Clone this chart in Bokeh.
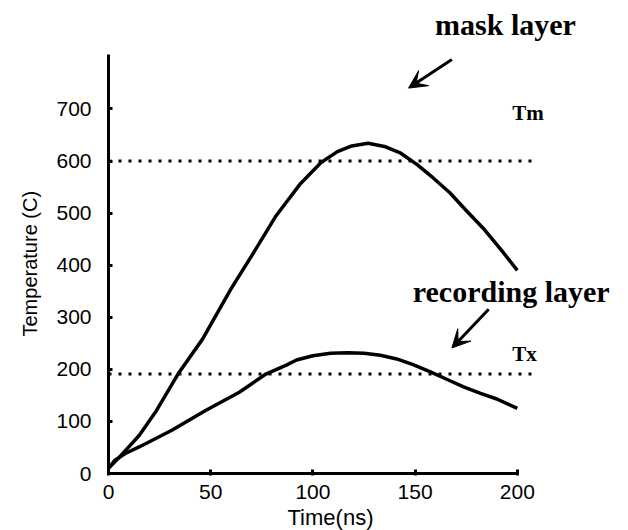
from bokeh.plotting import figure
from bokeh.models import Range1d, FixedTicker, Label, Arrow, VeeHead, Title
from bokeh.embed import file_html
from bokeh.resources import INLINE

# Data
t_mask = [0, 5, 15, 23, 34, 46, 60, 71, 82, 94, 104, 112, 119, 127, 135, 143, 151, 159, 167, 175, 184, 192, 200]
v_mask = [10, 30, 73, 118, 191, 258, 355, 424, 495, 557, 597, 618, 629, 634, 628, 615, 593, 567, 539, 505, 468, 430, 390]

t_rec = [0, 3, 8, 15, 31, 47.5, 64, 77, 87, 92, 100, 108.6, 117, 125, 133, 141, 149, 157.5, 166, 174, 182, 190, 200]
v_rec = [10, 25, 38, 51, 83, 121, 156, 191, 208, 218, 226, 231, 232, 231, 227, 220, 209, 195, 180, 166, 154, 143, 125]

Tm = 600
Tx = 191
ref_t = [0, 210]

x_ticks = [0, 50, 100, 150, 200]
y_ticks = [0, 100, 200, 300, 400, 500, 600, 700]

p = figure(width=628, height=530, output_backend="svg", toolbar_location=None,
           x_range=Range1d(0, 254.4), y_range=Range1d(0, 908.2),
           min_border_left=108, min_border_right=0, min_border_top=0, min_border_bottom=55)
p.outline_line_color = None
p.xgrid.visible = False
p.ygrid.visible = False
p.background_fill_color = "white"
p.border_fill_color = "white"

# reference lines
p.line(ref_t, [Tm, Tm], line_color="black", line_width=3, line_dash="3 7")
p.line(ref_t, [Tx, Tx], line_color="black", line_width=3, line_dash="3 7")

# curves
p.line(t_mask, v_mask, line_color="black", line_width=3.5, line_join="round")
p.line(t_rec, v_rec, line_color="black", line_width=3.5, line_join="round")

for ax in (p.xaxis[0], p.yaxis[0]):
    ax.axis_line_width = 3
    ax.axis_line_color = "black"
    ax.major_tick_line_width = 3
    ax.major_tick_line_color = "black"
    ax.minor_tick_line_color = None
    ax.major_label_text_font = "Liberation Sans"
    ax.major_label_text_font_size = "21px"
    ax.major_label_text_color = "black"

p.xaxis.ticker = FixedTicker(ticks=x_ticks)
p.yaxis.ticker = FixedTicker(ticks=y_ticks)
p.xaxis.bounds = (0, 200)
p.yaxis.bounds = (0, 805)
p.xaxis.major_tick_in = 4
p.xaxis.major_tick_out = 2
p.yaxis.major_tick_in = 4
p.yaxis.major_tick_out = 0
p.xaxis.major_label_standoff = 9
p.yaxis.major_label_standoff = 17

# axis titles (placed as side titles so that they can be positioned like the original)
p.add_layout(Title(text="Time(ns)", align="left", offset=179, standoff=2,
                   text_font="Liberation Sans", text_font_size="22px",
                   text_font_style="normal", text_color="black"), "below")
p.add_layout(Title(text="Temperature (C)", align="left", offset=137, standoff=26,
                   text_font="Liberation Sans", text_font_size="20px",
                   text_font_style="normal", text_color="black"), "left")

serif = dict(text_font="Liberation Serif", text_font_style="bold", text_color="black",
             text_baseline="alphabetic")
p.add_layout(Label(x=194.2, y=862, text="mask layer", text_align="center", text_font_size="30px", **serif))
p.add_layout(Label(x=197, y=349, text="recording layer", text_align="center", text_font_size="30px", **serif))
p.add_layout(Label(x=197.5, y=693, text="Tm", text_align="left", text_font_size="21px", **serif))
p.add_layout(Label(x=197.5, y=229, text="Tx", text_align="left", text_font_size="21px", **serif))

p.add_layout(Arrow(end=VeeHead(size=18, fill_color="black", line_color="black"),
                   x_start=168, y_start=795, x_end=146.8, y_end=740,
                   line_width=3, line_color="black"))
p.add_layout(Arrow(end=VeeHead(size=18, fill_color="black", line_color="black"),
                   x_start=186, y_start=315.5, x_end=168, y_end=241,
                   line_width=3, line_color="black"))

open("out.html", "w").write(file_html(p, INLINE))
